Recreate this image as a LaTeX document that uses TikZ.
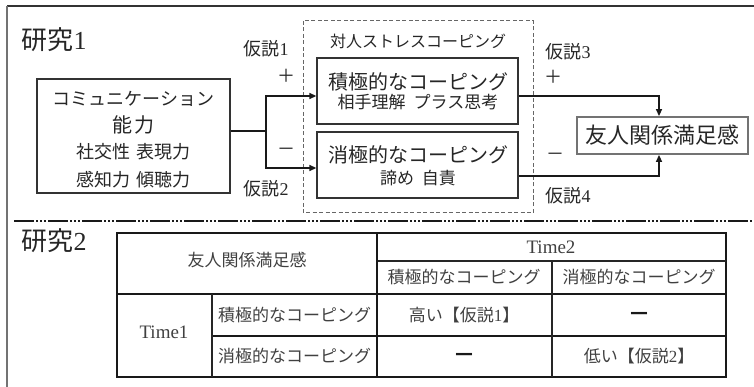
\documentclass[tikz,border=0pt]{standalone}
\usepackage{fontspec}
\setmainfont{Liberation Serif}
\newfontfamily\cjk{Noto Sans CJK JP}
\newfontfamily\djv{DejaVu Sans}
\usetikzlibrary{arrows.meta}
\newcommand{\fs}[1]{\fontsize{#1}{#1}\selectfont}
\begin{document}
\begin{tikzpicture}[x=1pt,y=-1pt,
  txt/.style={inner sep=0pt, text=black!85, font=\cjk\fs{18}},
  box/.style={draw=black!80, line width=1.3pt, inner sep=0pt},
  conn/.style={line width=1.4pt, black!90},
  arr/.style={conn, -{Triangle[length=7pt,width=6pt]}},
  tline/.style={line width=1.1pt, black!85},
  tthick/.style={line width=1.7pt, black!90},
  ttxt/.style={inner sep=0pt, text=black!75, font=\cjk\fs{17}}]
\useasboundingbox (0,0) rectangle (754,387);
% outer frame
\draw[line width=1.5pt, black!80] (7,6) -- (754,6);
\draw[line width=1.8pt, black!55] (7,6) -- (7,387);
% study 1
\node[txt, font=\cjk\fs{26}] (s1) at (54,40) {研究\rmfamily 1};
\draw[dashed, black!60, line width=1pt, dash pattern=on 4pt off 2.5pt] (303,21) rectangle (533,213);
\node[txt, font=\cjk\fs{16}] (dlab) at (418,41) {対人ストレスコーピング};
% boxes
\node[box, minimum width=193pt, minimum height=114pt] (comm) at (133.5,136) {};
\node[txt, font=\cjk\fs{18}] (c1) at (133.5,99) {コミュニケーション};
\node[txt, font=\cjk\fs{20}] (c2) at (133.5,125) {能\kern2pt力};
\node[txt, font=\cjk\fs{18}] (c3) at (133.5,152) {社交性\kern7pt 表現力};
\node[txt, font=\cjk\fs{18}] (c4) at (133.5,180) {感知力\kern7pt 傾聴力};
\node[box, minimum width=201pt, minimum height=66pt] (pos) at (417.5,91) {};
\node[txt, font=\cjk\fs{20}] (p1) at (418,82) {積極的なコーピング};
\node[txt, font=\cjk\fs{17}] (p2) at (418,102) {相手理解\kern8pt プラス思考};
\node[box, minimum width=201pt, minimum height=66pt] (neg) at (417.5,165) {};
\node[txt, font=\cjk\fs{20}] (n1) at (418,155) {消極的なコーピング};
\node[txt, font=\cjk\fs{17}] (n2) at (418,178) {諦め\kern8pt 自責};
\node[draw=black!55, line width=1.8pt, minimum width=171pt, minimum height=37pt, inner sep=0pt,
      text=black!85, font=\cjk\fs{22}] (sat) at (662.5,135.5) {友人関係満足感};
% connectors
\coordinate (split) at (266,131);
\draw[conn] (comm.east |- split) -- (split);
\draw[arr] (split) |- ([yshift=-5pt]pos.west);
\draw[arr] (split) |- ([yshift=-3pt]neg.west);
\draw[line width=2pt, black!90] ([yshift=-5pt]pos.west -| split) -- ([yshift=-3pt]neg.west -| split);
\draw[arr] ([yshift=-5pt]pos.east) -| ([xshift=-3.5pt]sat.north);
\draw[arr] ([yshift=-11pt]neg.east) -| ([xshift=-3.5pt]sat.south);
% labels
\node[txt] (h1) at (266,49) {仮説\rmfamily 1};
\node[txt] (h1s) at (286,76) {＋};
\node[txt] (h2s) at (286,152) {－};
\node[txt] (h2) at (266,189) {仮説\rmfamily 2};
\node[txt] (h3) at (568,52) {仮説\rmfamily 3};
\node[txt] (h3s) at (553,77) {＋};
\node[txt] (h4s) at (555,157) {－};
\node[txt] (h4) at (568,196) {仮説\rmfamily 4};
% separator
\draw[line width=1.5pt, black!90, dash pattern=on 20pt off 2pt on 2pt off 2pt on 2pt off 2pt on 2pt off 2pt] (14,221) -- (754,221);
% study 2
\node[txt, font=\cjk\fs{26}] (s2) at (54,241) {研究\rmfamily 2};
% table
\draw[tthick] (117,233) rectangle (726,377);
\draw[tthick] (117,294) -- (726,294);
\draw[tline] (377,261) -- (726,261);
\draw[tthick] (212,336) -- (726,336);
\draw[tline] (212,294) -- (212,377);
\draw[tthick] (377,233) -- (377,377);
\draw[tline] (552,261) -- (552,377);
\node[ttxt] (t0) at (247,260) {友人関係満足感};
\node[ttxt, font=\rmfamily\fs{19}] (t1) at (164,332) {Time1};
\node[ttxt, font=\rmfamily\fs{19}] (t2) at (551,247) {Time2};
\node[ttxt] (r1) at (294.5,315) {積極的なコーピング};
\node[ttxt] (r2) at (294.5,356) {消極的なコーピング};
\node[ttxt] (k1) at (464,277.5) {積極的なコーピング};
\node[ttxt] (k2) at (639,277.5) {消極的なコーピング};
\node[ttxt] (v11) at (464,315) {高い【仮説\rmfamily 1\cjk 】};
\node[ttxt, text=black!90, font=\djv\bfseries\fs{18}] (v12) at (639,315) {—};
\node[ttxt, text=black!90, font=\djv\bfseries\fs{18}] (v21) at (464,356) {—};
\node[ttxt] (v22) at (639,356) {低い【仮説\rmfamily 2\cjk 】};
\end{tikzpicture}
\end{document}
